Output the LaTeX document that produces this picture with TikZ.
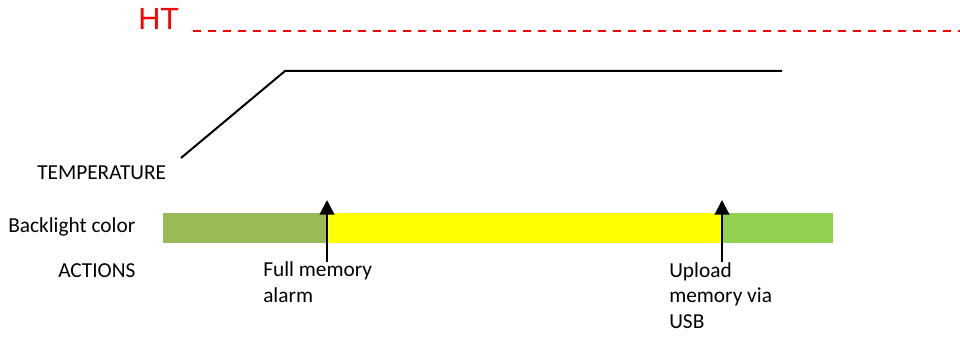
\documentclass[tikz,border=0pt]{standalone}
\usepackage{fontspec}
\setmainfont{Carlito}
\newfontfamily\arialfont{Liberation Sans}
\usetikzlibrary{arrows.meta}
\definecolor{oliveg}{HTML}{9BBB59}
\definecolor{lightg}{HTML}{92D050}
\definecolor{yel}{HTML}{FFFF00}
\definecolor{htred}{HTML}{FF0000}
\tikzset{
  lbl/.style={anchor=base west, inner sep=0pt, font=\fontsize{16}{19}\selectfont, align=left},
  tline/.style={line width=1.5pt, black},
  evarrow/.style={line width=1.6pt, -{Triangle[width=11pt,length=11pt]}},
  bar/.style={draw=none}
}
\begin{document}
\begin{tikzpicture}[x=0.75pt,y=-0.75pt]
\useasboundingbox (0,0) rectangle (960,338);
% HT label and dashed line
\node[anchor=base west, inner sep=0pt, text=htred, font=\arialfont\fontsize{23}{27}\selectfont] (ht) at (138,30) {HT};
\coordinate (hts) at (193,31);
\coordinate (hte) at (960,31);
\draw[htred, line width=1pt, dash pattern=on 6pt off 5.25pt] (hts) -- (hte);
% temperature curve
\coordinate (t0) at (181,158);
\coordinate (t1) at (285,71);
\coordinate (t2) at (782,71);
\draw[tline] (t0) -- (t1) -- (t2);
% labels
\node[lbl] (temp) at (37,180) {TEMPERATURE};
\node[lbl] (back) at (8,233) {Backlight color};
\node[lbl] (act) at (58,277) {ACTIONS};
% bar
\fill[oliveg] (163,213) rectangle (327,243);
\fill[yel] (327,213) rectangle (722,243);
\fill[lightg] (722,213) rectangle (833,243);
% arrows
\coordinate (a1s) at (327,262);
\coordinate (a1e) at (327,200);
\coordinate (a2s) at (722,262);
\coordinate (a2e) at (722,200);
\draw[evarrow] (a1s) -- (a1e);
\draw[evarrow] (a2s) -- (a2e);
% action labels (anchored at the baseline of their last line)
\node[lbl] (full) at (263,302) {Full memory\\alarm};
\node[lbl] (upl) at (669,328) {Upload\\memory via\\USB};
\end{tikzpicture}
\end{document}
